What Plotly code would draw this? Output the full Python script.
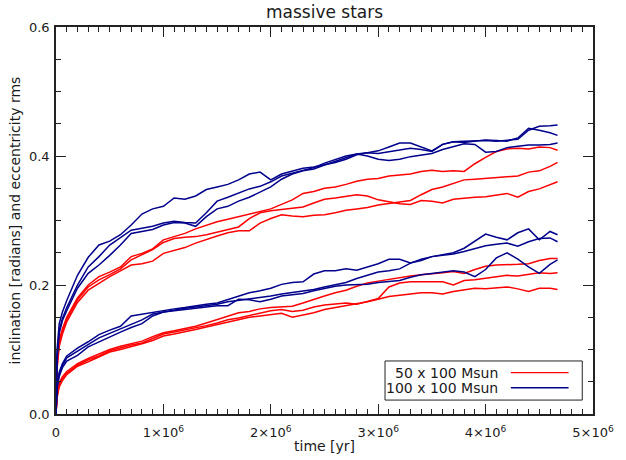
import plotly.graph_objects as go

# time in Myr (converted to years for the axis)
time_myr = [0, 0.01, 0.03, 0.06, 0.1, 0.15, 0.2,
            0.3, 0.4, 0.5, 0.6, 0.7, 0.8, 0.9, 1.0, 1.1, 1.2,
            1.3, 1.4, 1.5, 1.6, 1.7, 1.8, 1.9, 2.0, 2.1, 2.2,
            2.3, 2.4, 2.5, 2.6, 2.7, 2.8, 2.9, 3.0, 3.1, 3.2,
            3.3, 3.4, 3.5, 3.6, 3.7, 3.8, 3.9, 4.0, 4.1, 4.2,
            4.3, 4.4, 4.5, 4.6, 4.67]

# 100 x 100 Msun, upper group
blue_upper_1 = [0, 0.10, 0.14, 0.158, 0.176, 0.197, 0.215,
                0.243, 0.262, 0.268, 0.278, 0.293, 0.31, 0.318, 0.322, 0.335, 0.333,
                0.338, 0.348, 0.352, 0.356, 0.363, 0.372, 0.375, 0.363, 0.372, 0.376,
                0.381, 0.383, 0.386, 0.39, 0.395, 0.402, 0.405, 0.408, 0.414, 0.42,
                0.42, 0.414, 0.408, 0.418, 0.422, 0.423, 0.424, 0.424, 0.423, 0.425,
                0.426, 0.44, 0.446, 0.447, 0.448]
blue_upper_2 = [0, 0.09, 0.13, 0.148, 0.165, 0.182, 0.2,
                0.228, 0.244, 0.262, 0.274, 0.285, 0.288, 0.291, 0.296, 0.299, 0.297,
                0.296, 0.312, 0.33, 0.336, 0.343, 0.349, 0.353, 0.36, 0.369, 0.373,
                0.378, 0.382, 0.389, 0.394, 0.4, 0.403, 0.405, 0.404, 0.407, 0.409,
                0.412, 0.41, 0.407, 0.418, 0.422, 0.421, 0.423, 0.425, 0.424, 0.423,
                0.428, 0.443, 0.44, 0.436, 0.432]
blue_upper_3 = [0, 0.085, 0.125, 0.145, 0.16, 0.178, 0.195,
                0.218, 0.231, 0.246, 0.262, 0.28, 0.283, 0.286, 0.293, 0.297, 0.296,
                0.291, 0.306, 0.318, 0.322, 0.33, 0.336, 0.344, 0.352, 0.364, 0.372,
                0.377, 0.38, 0.386, 0.392, 0.398, 0.403, 0.4, 0.395, 0.393, 0.395,
                0.399, 0.402, 0.404, 0.41, 0.415, 0.419, 0.418, 0.406, 0.407, 0.413,
                0.415, 0.417, 0.417, 0.418, 0.42]

# 50 x 100 Msun, upper group
red_upper_1 = [0, 0.08, 0.115, 0.132, 0.15, 0.165, 0.18,
               0.2, 0.213, 0.22, 0.228, 0.244, 0.249, 0.256, 0.27, 0.275, 0.28,
               0.287, 0.293, 0.298, 0.302, 0.306, 0.309, 0.314, 0.318, 0.325, 0.332,
               0.342, 0.345, 0.35, 0.352, 0.356, 0.361, 0.364, 0.365, 0.369, 0.371,
               0.372, 0.376, 0.378, 0.376, 0.377, 0.376, 0.388, 0.398, 0.407, 0.411,
               0.412, 0.411, 0.414, 0.413, 0.409]
red_upper_2 = [0, 0.075, 0.11, 0.128, 0.147, 0.162, 0.177,
               0.197, 0.208, 0.216, 0.225, 0.239, 0.247, 0.255, 0.266, 0.272, 0.274,
               0.275, 0.278, 0.282, 0.286, 0.29, 0.303, 0.312, 0.315, 0.317, 0.319,
               0.321, 0.327, 0.333, 0.335, 0.337, 0.34, 0.338, 0.332, 0.329, 0.326,
               0.325, 0.331, 0.33, 0.327, 0.333, 0.335, 0.336, 0.337, 0.34, 0.342,
               0.336, 0.345, 0.349, 0.356, 0.36]
red_upper_3 = [0, 0.07, 0.105, 0.124, 0.143, 0.158, 0.173,
               0.192, 0.203, 0.213, 0.222, 0.231, 0.233, 0.237, 0.249, 0.253, 0.258,
               0.265, 0.271, 0.276, 0.281, 0.284, 0.284, 0.296, 0.303, 0.309, 0.307,
               0.306, 0.308, 0.309, 0.312, 0.316, 0.318, 0.32, 0.324, 0.326, 0.328,
               0.331, 0.34, 0.348, 0.352, 0.358, 0.363, 0.364, 0.365, 0.366, 0.367,
               0.369, 0.375, 0.377, 0.384, 0.39]

# 100 x 100 Msun, lower group
blue_lower_1 = [0, 0.045, 0.065, 0.078, 0.09, 0.096, 0.102,
                0.112, 0.123, 0.13, 0.136, 0.152, 0.155, 0.157, 0.161, 0.163, 0.165,
                0.168, 0.17, 0.172, 0.177, 0.183, 0.188, 0.191, 0.195, 0.201, 0.204,
                0.205, 0.217, 0.222, 0.222, 0.225, 0.223, 0.228, 0.233, 0.24, 0.24,
                0.234, 0.238, 0.244, 0.247, 0.25, 0.257, 0.268, 0.279, 0.274, 0.27,
                0.281, 0.287, 0.27, 0.283, 0.278]
blue_lower_2 = [0, 0.042, 0.062, 0.075, 0.087, 0.092, 0.097,
                0.107, 0.118, 0.125, 0.132, 0.138, 0.146, 0.155, 0.158, 0.162, 0.164,
                0.166, 0.168, 0.17, 0.174, 0.176, 0.178, 0.181, 0.183, 0.186, 0.188,
                0.19, 0.193, 0.197, 0.2, 0.204, 0.21, 0.215, 0.22, 0.222, 0.225,
                0.234, 0.24, 0.244, 0.246, 0.248, 0.252, 0.256, 0.261, 0.263, 0.265,
                0.26, 0.267, 0.272, 0.273, 0.267]
blue_lower_3 = [0, 0.04, 0.058, 0.072, 0.082, 0.087, 0.091,
                0.104, 0.112, 0.12, 0.127, 0.134, 0.14, 0.152, 0.158, 0.16, 0.162,
                0.165, 0.167, 0.168, 0.168, 0.178, 0.177, 0.174, 0.178, 0.183, 0.185,
                0.187, 0.191, 0.195, 0.198, 0.2, 0.2, 0.201, 0.204, 0.205, 0.207,
                0.212, 0.216, 0.218, 0.22, 0.222, 0.22, 0.213, 0.224, 0.242, 0.25,
                0.24, 0.228, 0.218, 0.232, 0.239]

# 50 x 100 Msun, lower group
red_lower_1 = [0, 0.03, 0.048, 0.058, 0.066, 0.072, 0.078,
               0.086, 0.093, 0.1, 0.105, 0.109, 0.113, 0.12, 0.126, 0.129, 0.132,
               0.136, 0.141, 0.146, 0.152, 0.157, 0.159, 0.163, 0.165, 0.166, 0.167,
               0.172, 0.178, 0.183, 0.188, 0.192, 0.198, 0.203, 0.206, 0.209, 0.212,
               0.214, 0.216, 0.217, 0.219, 0.221, 0.218, 0.224, 0.229, 0.231, 0.231,
               0.232, 0.233, 0.238, 0.241, 0.241]
red_lower_2 = [0, 0.028, 0.045, 0.055, 0.063, 0.07, 0.076,
               0.084, 0.09, 0.098, 0.103, 0.107, 0.11, 0.117, 0.124, 0.127, 0.13,
               0.133, 0.137, 0.141, 0.146, 0.149, 0.153, 0.156, 0.16, 0.162, 0.159,
               0.161, 0.166, 0.169, 0.17, 0.172, 0.17, 0.174, 0.179, 0.197, 0.203,
               0.205, 0.205, 0.206, 0.205, 0.2, 0.207, 0.208, 0.21, 0.212, 0.215,
               0.214, 0.216, 0.219, 0.218, 0.219]
red_lower_3 = [0, 0.025, 0.042, 0.052, 0.061, 0.068, 0.074,
               0.081, 0.088, 0.096, 0.1, 0.104, 0.109, 0.114, 0.121, 0.124, 0.127,
               0.131, 0.135, 0.139, 0.142, 0.146, 0.15, 0.152, 0.154, 0.156, 0.15,
               0.153, 0.157, 0.162, 0.165, 0.168, 0.17, 0.174, 0.178, 0.182, 0.184,
               0.186, 0.188, 0.188, 0.186, 0.19, 0.193, 0.195, 0.194, 0.195, 0.197,
               0.194, 0.19, 0.195, 0.195, 0.193]

# tick labels (plotly's default "1M" style labels are aliased to IDL-style ones)
x_tick_alias = {"0": "0", "1M": "1×10<sup>6</sup>", "2M": "2×10<sup>6</sup>",
                "3M": "3×10<sup>6</sup>", "4M": "4×10<sup>6</sup>", "5M": "5×10<sup>6</sup>"}

legend_labels = ["50 x 100 Msun", "100 x 100 Msun"]
RED = "#ff0000"
BLUE = "#00008c"
FONT = "DejaVu Sans"
TXT = "#1a1a1a"

time_yr = [t * 1e6 for t in time_myr]

fig = go.Figure()
for series in (red_upper_1, red_upper_2, red_upper_3, red_lower_1, red_lower_2, red_lower_3):
    fig.add_trace(go.Scatter(x=time_yr, y=series, mode="lines",
                             line=dict(color=RED, width=1.5), showlegend=False,
                             hoverinfo="skip"))
for series in (blue_upper_1, blue_upper_2, blue_upper_3, blue_lower_1, blue_lower_2, blue_lower_3):
    fig.add_trace(go.Scatter(x=time_yr, y=series, mode="lines",
                             line=dict(color=BLUE, width=1.5), showlegend=False,
                             hoverinfo="skip"))

axis_common = dict(showline=True, linecolor="#222222", linewidth=1.5, mirror="allticks",
                   ticks="inside", ticklen=10, tickwidth=1, tickcolor="#222222",
                   showgrid=False, zeroline=False, ticklabeloverflow="allow",
                   tickfont=dict(family=FONT, size=13, color=TXT))

fig.update_xaxes(range=[0, 5e6], tickmode="linear", tick0=0, dtick=1e6,
                 labelalias=x_tick_alias, ticklabelstandoff=6,
                 minor=dict(ticks="inside", ticklen=5, tickwidth=1, tickcolor="#222222",
                            dtick=1e5, tick0=0, showgrid=False),
                 **axis_common)
fig.update_yaxes(range=[0, 0.6], tickmode="linear", tick0=0, dtick=0.2, tickformat=".1f",
                 ticklabelstandoff=2,
                 minor=dict(ticks="inside", ticklen=5, tickwidth=1, tickcolor="#222222",
                            dtick=0.05, tick0=0, showgrid=False),
                 **axis_common)

annotations = [
    dict(text="massive stars", xref="paper", yref="paper", x=0.5, y=(414 - 12) / 387,
         showarrow=False, font=dict(family=FONT, size=17, color=TXT), yanchor="middle"),
    dict(text="time [yr]", xref="paper", yref="paper", x=0.5, y=-(446 - 414) / 387,
         showarrow=False, font=dict(family=FONT, size=14, color=TXT), yanchor="middle"),
    dict(text="inclination [radians] and eccentricity rms", xref="paper", yref="paper",
         x=-(56 - 14) / 550, y=0.5, textangle=-90, showarrow=False,
         font=dict(family=FONT, size=14, color=TXT), xanchor="center", yanchor="middle"),
]
shapes = [
    dict(type="rect", xref="paper", yref="paper", x0=0.6127, x1=0.98, y0=0.036, y1=0.137,
         line=dict(color="#222222", width=1), fillcolor="white", layer="above"),
]
for i, (lab, col) in enumerate(zip(legend_labels, [RED, BLUE])):
    yy = 0.107 - i * 0.039
    annotations.append(dict(text=lab, xref="paper", yref="paper", x=0.827, y=yy,
                            xanchor="right", yanchor="middle", showarrow=False,
                            font=dict(family=FONT, size=14, color=TXT)))
    shapes.append(dict(type="line", xref="paper", yref="paper", x0=0.847, x1=0.9545,
                       y0=yy, y1=yy, line=dict(color=col, width=1.4), layer="above"))

fig.update_layout(width=626, height=460, margin=dict(l=56, r=20, t=27, b=46),
                  paper_bgcolor="white", plot_bgcolor="white",
                  annotations=annotations, shapes=shapes, showlegend=False)

fig.write_html("out.html", config={"displayModeBar": False},
               post_script="document.body.style.margin='0px';document.body.style.padding='0px';")
